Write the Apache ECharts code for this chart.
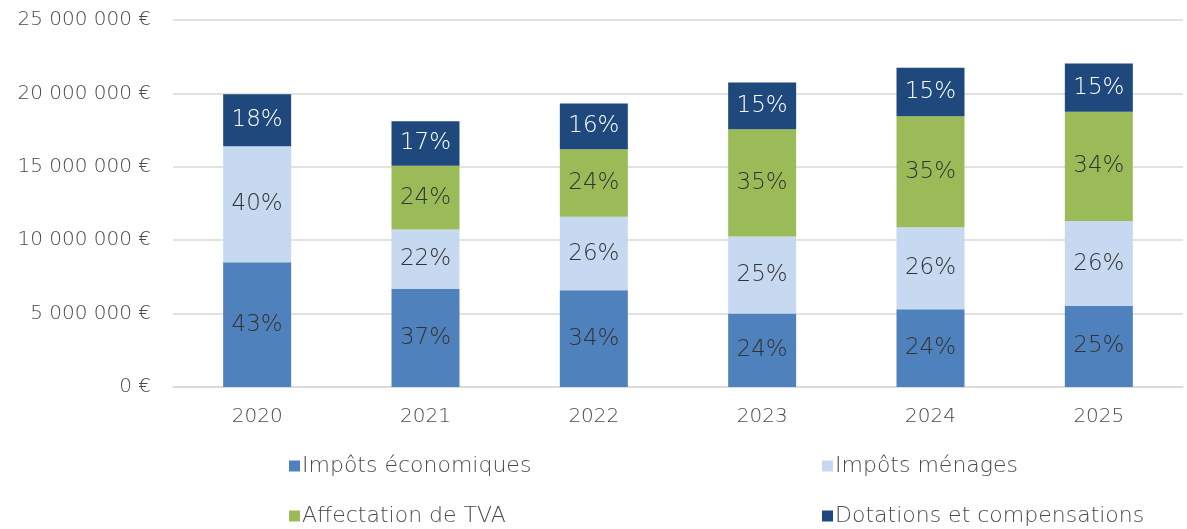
<!DOCTYPE html>
<html>
<head>
<meta charset="utf-8">
<script src="https://cdn.jsdelivr.net/npm/echarts@6/dist/echarts.min.js"></script>
<style>
  html, body { margin: 0; padding: 0; background: #fff; }
  #chart { width: 1187px; height: 529px; }
</style>
</head>
<body>
<div id="chart"></div>
<script>
// Budget breakdown by resource type, in euros
const years = ['2020', '2021', '2022', '2023', '2024', '2025'];
const impotsEconomiques = [8500000, 6680000, 6590000, 5000000, 5300000, 5520000];
const impotsMenages     = [7900000, 4050000, 5000000, 5250000, 5590000, 5780000];
const affectationTVA    = [0,       4340000, 4610000, 7300000, 7560000, 7450000];
const dotations         = [3550000, 3040000, 3120000, 3200000, 3300000, 3290000];

const seriesNames = ['Impôts économiques', 'Impôts ménages', 'Affectation de TVA', 'Dotations et compensations'];
const seriesData = [impotsEconomiques, impotsMenages, affectationTVA, dotations];
const colors = ['#4F81BD', '#C6D9F1', '#9BBB59', '#1F497D'];
const labelColors = ['#333333', '#333333', '#333333', '#FFFFFF'];

const FONT = 'DejaVu Sans';
const WEIGHT = 200;
const TEXT = '#4A4A4A';

const totals = years.map((_, i) => seriesData.reduce((s, arr) => s + arr[i], 0));

function euro(v) {
  return String(v).replace(/\B(?=(\d{3})+(?!\d))/g, ' ') + ' €';
}

const chart = echarts.init(document.getElementById('chart'));

const series = seriesNames.map((name, k) => ({
  name,
  type: 'bar',
  stack: 'total',
  barWidth: 68,
  data: seriesData[k].map(v => (v === 0 ? null : v)),
  itemStyle: { color: colors[k] },
  label: {
    show: true,
    position: 'inside',
    color: labelColors[k],
    fontFamily: FONT,
    fontWeight: WEIGHT,
    fontSize: 23,
    formatter: p => Math.round(p.value / totals[p.dataIndex] * 100) + '%'
  }
}));

const legendPos = [
  { left: 284, top: 450 },
  { left: 817, top: 450 },
  { left: 284, top: 500 },
  { left: 817, top: 500 }
];

chart.setOption({
  animation: false,
  color: colors,
  grid: { left: 173, right: 4, top: 20, bottom: 142, containLabel: false },
  xAxis: {
    type: 'category',
    data: years,
    axisTick: { show: false },
    axisLine: { lineStyle: { color: '#D9D9D9', width: 1.5 } },
    axisLabel: { color: TEXT, fontFamily: FONT, fontWeight: WEIGHT, fontSize: 20, margin: 20 }
  },
  yAxis: {
    type: 'value',
    min: 0,
    max: 25000000,
    interval: 5000000,
    axisLine: { show: false },
    axisTick: { show: false },
    splitLine: { lineStyle: { color: '#D9D9D9', width: 1.5 } },
    axisLabel: {
      color: TEXT, fontFamily: FONT, fontWeight: WEIGHT, fontSize: 20, margin: 22,
      formatter: v => euro(v)
    }
  },
  legend: seriesNames.map((name, k) => ({
    data: [name],
    left: legendPos[k].left,
    top: legendPos[k].top,
    icon: 'rect',
    itemWidth: 11,
    itemHeight: 11,
    itemGap: 4,
    textStyle: { color: TEXT, fontFamily: FONT, fontWeight: WEIGHT, fontSize: 22, padding: [0, 0, 0, -3] }
  })),
  series
});
</script>
</body>
</html>
